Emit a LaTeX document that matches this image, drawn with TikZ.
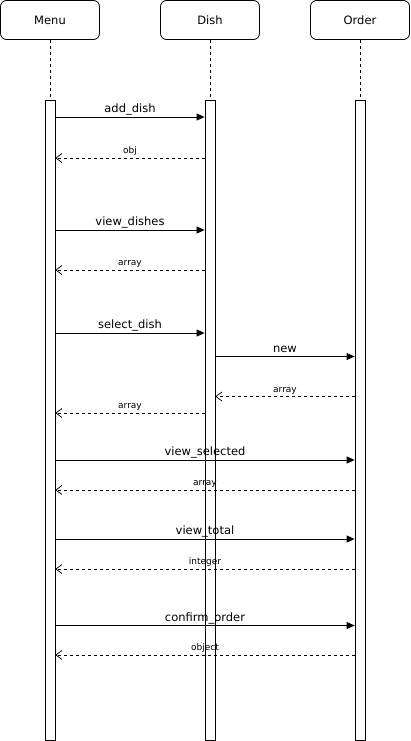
\documentclass[tikz,border=0pt]{standalone}
\usepackage{fontspec}
\setmainfont{DejaVu Sans}
\usetikzlibrary{arrows.meta}

\begin{document}
\begin{tikzpicture}[x=1pt,y=-1pt,
    head/.style={draw,rounded corners=6pt,minimum width=99pt,minimum height=39pt,inner sep=0pt,line width=0.8pt,font=\fontsize{11.5}{13}\selectfont},
    bar/.style={draw,fill=white,minimum width=10pt,minimum height=640pt,inner sep=0pt,line width=0.8pt},
    call/.style={-{Triangle[length=8pt,width=7pt]},line width=0.8pt},
    reply/.style={-{Straight Barb[length=6pt,width=9pt]},dash pattern=on 3pt off 3pt,line width=0.7pt},
    big/.style={anchor=base,yshift=4.5pt,inner sep=0pt,font=\fontsize{11.5}{13}\selectfont},
    small/.style={anchor=base,yshift=4.5pt,inner sep=0pt,font=\fontsize{9}{10}\selectfont}]
    \useasboundingbox (0,0) rectangle (411,741);
    \node[head] (menu) at (50,20) {Menu};
    \node[head] (dish) at (210,20) {Dish};
    \node[head] (order) at (360,20) {Order};
    \node[bar] (mbar) at (50,420) {};
    \node[bar] (dbar) at (210,420) {};
    \node[bar] (obar) at (360,420) {};
    \draw[dash pattern=on 3pt off 3pt,line width=0.7pt] (menu.south) -- (mbar.north);
    \draw[dash pattern=on 3pt off 3pt,line width=0.7pt] (dish.south) -- (dbar.north);
    \draw[dash pattern=on 3pt off 3pt,line width=0.7pt] (order.south) -- (obar.north);
    % add dish
    \draw[call] (mbar.east |- 0,117) -- (dbar.west |- 0,117) node[big,midway] {add\_dish};
    \draw[reply] (dbar.west |- 0,158) -- (mbar.east |- 0,158) node[small,midway] {obj};
    % view dishes
    \draw[call] (mbar.east |- 0,230) -- (dbar.west |- 0,230) node[big,midway] {view\_dishes};
    \draw[reply] (dbar.west |- 0,270) -- (mbar.east |- 0,270) node[small,midway] {array};
    % select dish
    \draw[call] (mbar.east |- 0,333) -- (dbar.west |- 0,333) node[big,midway] {select\_dish};
    \draw[call] (dbar.east |- 0,356.5) -- (obar.west |- 0,356.5) node[big,midway] {new};
    \draw[reply] (obar.west |- 0,396.5) -- (dbar.east |- 0,396.5) node[small,midway] {array};
    \draw[reply] (dbar.west |- 0,413) -- (mbar.east |- 0,413) node[small,midway] {array};
    % view selected
    \draw[call] (mbar.east |- 0,460) -- (obar.west |- 0,460) node[big,midway] {view\_selected};
    \draw[reply] (obar.west |- 0,490) -- (mbar.east |- 0,490) node[small,midway] {array};
    % view total
    \draw[call] (mbar.east |- 0,539) -- (obar.west |- 0,539) node[big,midway] {view\_total};
    \draw[reply] (obar.west |- 0,569) -- (mbar.east |- 0,569) node[small,midway] {integer};
    % confirm order
    \draw[call] (mbar.east |- 0,625.5) -- (obar.west |- 0,625.5) node[big,midway] {confirm\_order};
    \draw[reply] (obar.west |- 0,655) -- (mbar.east |- 0,655) node[small,midway] {object};
\end{tikzpicture}
\end{document}
